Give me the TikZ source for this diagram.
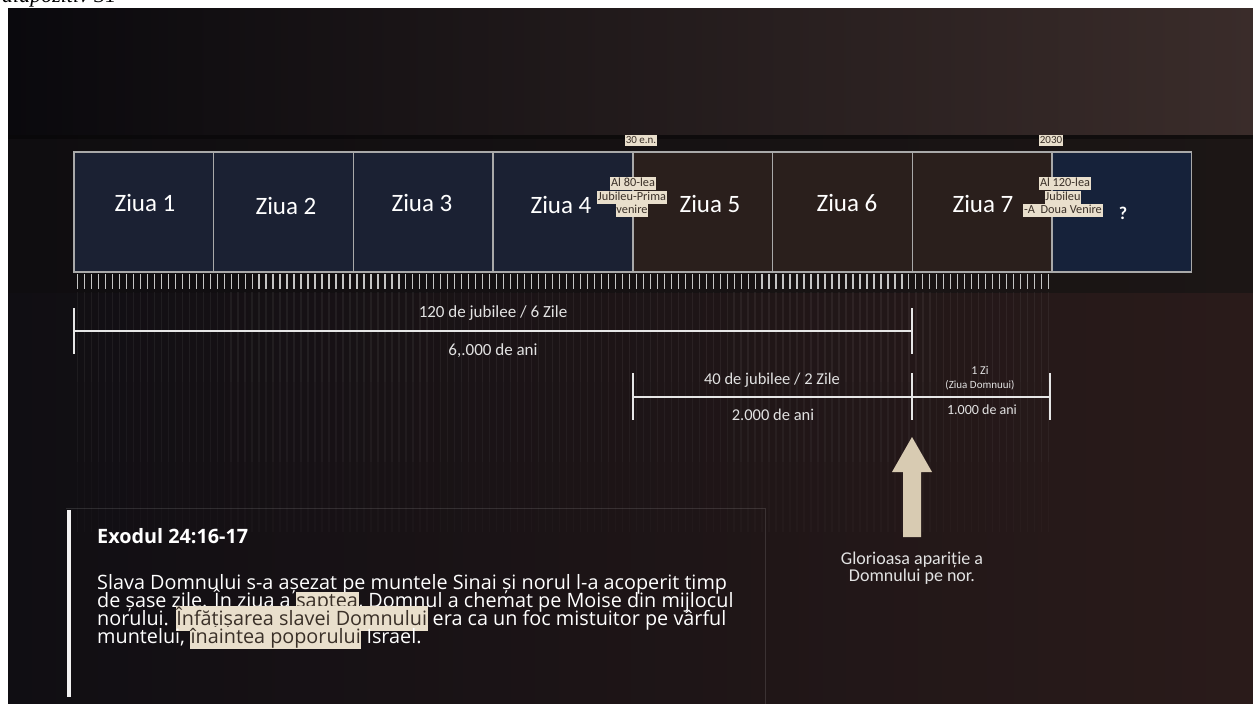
\documentclass[tikz,border=0pt]{standalone}
\usepackage{fontspec}
\setmainfont{Carlito}
\newfontfamily\slidefont{Liberation Serif}
\newfontfamily\quotefont{Open Sans}
\usetikzlibrary{calc}
\definecolor{navycell}{HTML}{1B2133}
\definecolor{navylast}{HTML}{16223A}
\definecolor{browncell}{HTML}{2A1F1C}
\definecolor{cellborder}{HTML}{A9A9A9}
\definecolor{hlbeige}{HTML}{E9DFCC}
\definecolor{hltext}{HTML}{3A3028}
\definecolor{barwhite}{HTML}{E6E6E6}
\definecolor{lblwhite}{HTML}{E2E2E2}
\definecolor{tickgray}{HTML}{C4C4C4}
\definecolor{arrowbeige}{HTML}{D8CBB2}
\definecolor{bgTopL}{HTML}{0A090D}
\definecolor{bgTopM}{HTML}{18141A}
\definecolor{bgTopR}{HTML}{3A2C2A}
\definecolor{bandL}{HTML}{0F0D10}
\definecolor{bandR}{HTML}{1C1615}
\definecolor{botL}{HTML}{100E13}
\definecolor{botM}{HTML}{1C1417}
\definecolor{botR}{HTML}{2A1B1A}
\newcommand{\hlt}[1]{{\setlength{\fboxsep}{0.5pt}\colorbox{hlbeige}{\color{hltext}\rule[-5pt]{0pt}{19.5pt}#1}}}
\begin{document}
\begin{tikzpicture}[x=1pt,y=-1pt,
  cell/.style={draw=cellborder, line width=1.4pt, minimum width=139.7pt, minimum height=120pt, inner sep=0pt},
  ziua/.style={text=white, font=\fontsize{25}{25}\selectfont, inner sep=0pt},
  tag/.style={fill=hlbeige, text=hltext, inner sep=0.8pt, text height=8.8pt, text depth=2.6pt, font=\fontsize{12.3}{12.3}\selectfont},
  datetag/.style={fill=hlbeige, text=hltext, inner sep=1pt, text height=7.5pt, text depth=1.5pt, font=\fontsize{11}{11}\selectfont},
  bar/.style={draw=barwhite, line width=2.2pt},
  lbl/.style={text=lblwhite, inner sep=0pt, font=\fontsize{17}{17}\selectfont},
  tickline/.style={draw=tickgray, line width=1.3pt},
  stripe/.style={draw=white, line width=1.4pt},
  quoteline/.style={anchor=base west, text=white, inner sep=0pt, font=\quotefont\fontsize{19.8}{18}\selectfont}
]
\useasboundingbox (0,0) rectangle (1253,704);
\clip (0,0) rectangle (1253,704);
\fill[white] (0,0) rectangle (1253,704);
\node[anchor=base west, inner sep=0pt, font=\slidefont\itshape\fontsize{22}{22}\selectfont] (slidetitle) at (2,2) {diapozitiv 31};

% backgrounds
\shade[left color=botL, middle color=botM, right color=botR] (8,8) rectangle (1253,704);
\shade[left color=bgTopL, middle color=bgTopM, right color=bgTopR] (8,8) rectangle (1253,135);
\shade[left color=bandL, right color=bandR] (8,135) rectangle (1253,292);
\fill[black, opacity=0.35] (8,135) rectangle (1253,139);

% faint vertical stripes below the scale
\foreach \i in {0,...,139} {
  \draw[stripe, opacity=0.055] ({77.5+6.986*\i},292) -- ++(0,90);
  \draw[stripe, opacity=0.038] ({77.5+6.986*\i},382) -- ++(0,80);
  \draw[stripe, opacity=0.02] ({77.5+6.986*\i},462) -- ++(0,70);
}

% day cells
\node[cell, fill=navycell] (d1) at (143.85,212) {};
\node[cell, fill=navycell] (d2) at (283.55,212) {};
\node[cell, fill=navycell] (d3) at (423.25,212) {};
\node[cell, fill=navycell] (d4) at (562.95,212) {};
\node[cell, fill=browncell] (d5) at (702.65,212) {};
\node[cell, fill=browncell] (d6) at (842.35,212) {};
\node[cell, fill=browncell] (d7) at (982.05,212) {};
\node[cell, fill=navylast] (d8) at (1121.75,212) {};

% tick marks
\foreach \i in {0,...,139} {
  \draw[tickline] ({77.5+6.986*\i},274) -- ++(0,15);
}

% day labels
\node[ziua] (z1) at (145,203) {Ziua 1};
\node[ziua] (z2) at (286,206) {Ziua 2};
\node[ziua] (z3) at (422,203) {Ziua 3};
\node[ziua] (z4) at (561,205) {Ziua 4};
\node[ziua] (z5) at (710,204) {Ziua 5};
\node[ziua] (z6) at (847,203) {Ziua 6};
\node[ziua] (z7) at (983,204) {Ziua 7};
\node[text=white, inner sep=0pt, font=\bfseries\fontsize{18}{18}\selectfont] (q) at (1123,213) {?};

% date tags
\node[datetag] (t30) at (641,140) {30 e.n.};
\node[datetag] (t2030) at (1051,140) {2030};

% jubilee tags
\node[tag] (j80a) at (633,183) {Al 80-lea};
\node[tag] (j80b) at (632,197) {Jubileu-Prima};
\node[tag] (j80c) at (632,210) {venire};
\node[tag] (j120a) at (1065,183) {Al 120-lea};
\node[tag] (j120b) at (1063,197) {Jubileu};
\node[tag] (j120c) at (1063,210) {-A\ \ Doua Venire};

% span bars
\coordinate (b1l) at (74,331);
\coordinate (b1r) at (912,331);
\draw[bar] (b1l) -- (b1r);
\draw[bar] ($(b1l)+(0,-23)$) -- ($(b1l)+(0,23)$);
\draw[bar] ($(b1r)+(0,-23)$) -- ($(b1r)+(0,23)$);
\node[lbl] (l120) at (493,313) {120 de jubilee / 6 Zile};
\node[lbl] (l6000) at (493,351) {6,.000 de ani};

\coordinate (b2l) at (633,397);
\coordinate (b2m) at (912,397);
\coordinate (b2r) at (1050,397);
\draw[bar] (b2l) -- (b2r);
\draw[bar] ($(b2l)+(0,-24)$) -- ($(b2l)+(0,23)$);
\draw[bar] ($(b2m)+(0,-24)$) -- ($(b2m)+(0,23)$);
\draw[bar] ($(b2r)+(0,-24)$) -- ($(b2r)+(0,23)$);
\node[lbl, font=\fontsize{16.5}{16.5}\selectfont] (l40) at (772,380) {40 de jubilee / 2 Zile};
\node[lbl, font=\fontsize{16.5}{16.5}\selectfont] (l2000) at (773,415) {2.000 de ani};
\node[lbl, font=\fontsize{12}{12}\selectfont] (l1zi) at (980,370) {1 Zi};
\node[lbl, font=\fontsize{11}{11}\selectfont] (lzd) at (980,385) {(Ziua Domnuui)};
\node[lbl, font=\fontsize{14}{14}\selectfont] (l1000) at (982,410) {1.000 de ani};

% arrow
\fill[arrowbeige] (903,537) -- (903,472) -- (892,472) -- (912,437) -- (932,472) -- (921,472) -- (921,537) -- cycle;
\node[text=lblwhite, align=center, inner sep=0pt, font=\fontsize{18}{14.5}\selectfont] (glory) at (912,568) {Glorioasa apariție a\\Domnului pe nor.};

% quote panel
\draw[white, opacity=0.12, line width=0.8pt] (66,508) -- (765,508) -- (765,704);
\fill[white!95!black] (67,510) rectangle (71,697);
\node[anchor=base west, text=white, inner sep=0pt, font=\quotefont\bfseries\fontsize{19.8}{19.8}\selectfont] (qtitle) at (97,543) {Exodul 24:16-17};
\node[quoteline] (ql1) at (97,589) {Slava Domnului s-a așezat pe muntele Sinai și norul l-a acoperit timp};
\node[quoteline] (ql2) at (97,607) {de șase zile. În ziua a \hlt{șaptea}, Domnul a chemat pe Moise din mijlocul};
\node[quoteline] (ql3) at (97,625) {norului. \hlt{Înfățișarea slavei Domnului} era ca un foc mistuitor pe vârful};
\node[quoteline] (ql4) at (97,643) {muntelui, \hlt{înaintea poporului} Israel.};
\end{tikzpicture}
\end{document}
